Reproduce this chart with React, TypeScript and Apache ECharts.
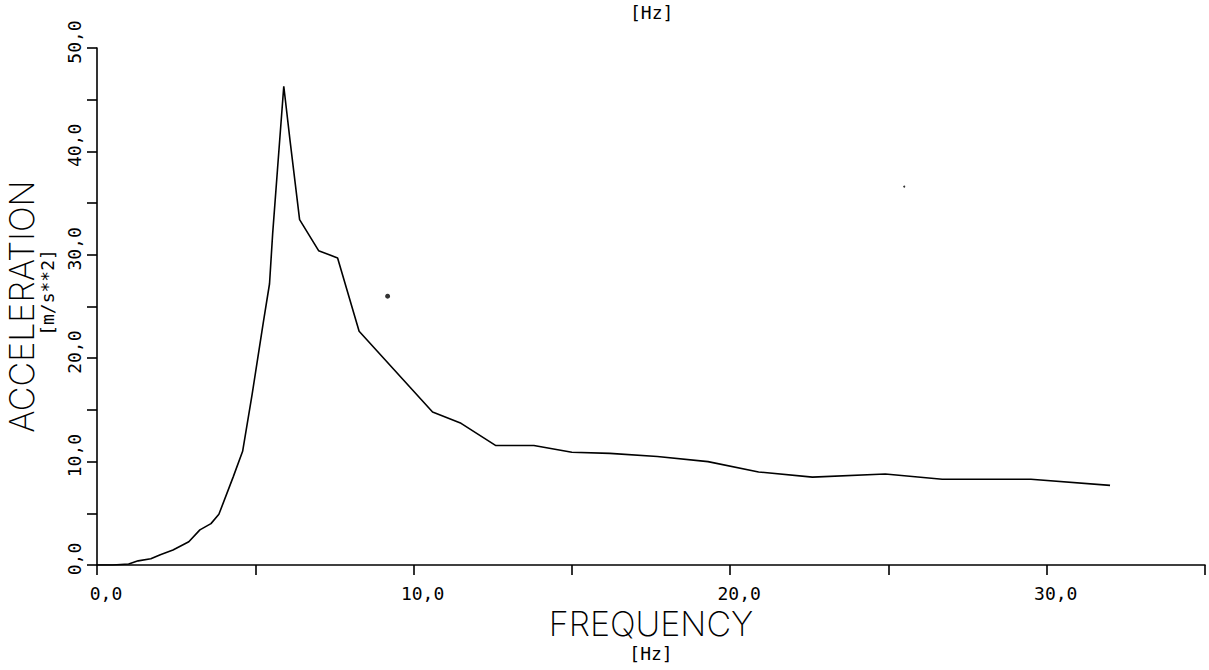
import React, { useEffect, useRef } from "react";
import * as echarts from "echarts";

// Frequency [Hz] and acceleration [m/s**2]
const frequency = [
  0, 0.5, 1.0, 1.3, 1.7, 2.0, 2.4, 2.9, 3.25, 3.6, 3.85, 4.3, 4.6, 4.9, 5.25, 5.45,
  5.55, 5.7, 5.9, 6.1, 6.4, 7.0, 7.6, 8.28, 10.6, 11.5, 12.6, 13.8, 15.0, 16.2, 17.7,
  19.3, 20.9, 22.6, 24.9, 26.7, 29.5, 32.0,
];
const acceleration = [
  0, 0.0, 0.1, 0.4, 0.6, 1.0, 1.45, 2.25, 3.4, 4.0, 4.9, 8.5, 11.0, 16.5, 23.4, 27.2,
  32.1, 38.2, 46.3, 41.0, 33.4, 30.4, 29.7, 22.6, 14.8, 13.7, 11.55, 11.55, 10.9, 10.8, 10.5,
  10.0, 9.0, 8.5, 8.8, 8.3, 8.3, 7.7,
];
// Stray specks on the scanned sheet
const speckX = [9.18, 25.5];
const speckY = [26.0, 36.6];
const speckSize = [5, 2];

const xTicks = { min: 0, max: 35, step: 5 };
const yTicks = { min: 0, max: 50, step: 5 };

const fmt = (v: number) => (v % 10 === 0 ? v.toFixed(1).replace(".", ",") : "");

export default function App() {
  const ref = useRef<HTMLDivElement>(null);
  useEffect(() => {
    document.body.style.margin = "0";
    if (!ref.current) return;
    const chart = echarts.init(ref.current, undefined, { renderer: "svg" });
    const mono = "DejaVu Sans Mono";
    const line = { color: "#000", width: 1.6 };
    chart.setOption({
      animation: false,
      backgroundColor: "#fff",
      grid: { left: 97, right: 4, top: 48, bottom: 105, containLabel: false, outerBoundsMode: "none" },
      xAxis: {
        type: "value",
        min: xTicks.min,
        max: xTicks.max,
        interval: xTicks.step,
        axisLine: { show: true, onZero: false, lineStyle: line },
        axisTick: { show: true, length: 10, lineStyle: line },
        splitLine: { show: false },
        axisLabel: {
          formatter: fmt,
          margin: 19,
          fontFamily: mono,
          fontSize: 18,
          color: "#000",
          padding: [0, 0, 0, 18],
        },
        name: "{a|FREQUENCY}\n{b|[Hz]}",
        nameLocation: "middle",
        nameGap: 42,
        nameTextStyle: {
          rich: {
            a: { fontFamily: "Inter", fontWeight: 200, fontSize: 34, lineHeight: 32, color: "#000" },
            b: { fontFamily: mono, fontSize: 18, lineHeight: 28, color: "#000" },
          },
        },
      },
      yAxis: {
        type: "value",
        min: yTicks.min,
        max: yTicks.max,
        interval: yTicks.step,
        axisLine: { show: true, onZero: false, lineStyle: line },
        axisTick: { show: true, length: 10, lineStyle: line },
        splitLine: { show: false },
        axisLabel: {
          formatter: fmt,
          rotate: 90,
          margin: 14,
          fontFamily: mono,
          fontSize: 18,
          color: "#000",
          padding: [0, 0, 0, 12],
        },
        name: "{a|ACCELERATION}\n{b|[m/s**2]}",
        nameLocation: "middle",
        nameRotate: 90,
        nameGap: 38,
        nameTextStyle: {
          rich: {
            a: { fontFamily: "Inter", fontWeight: 200, fontSize: 34, lineHeight: 28, color: "#000" },
            b: { fontFamily: mono, fontSize: 18, lineHeight: 24, color: "#000", padding: [0, 0, 0, 28] },
          },
        },
      },
      graphic: [
        {
          type: "text",
          left: 630,
          top: 3,
          style: { text: "[Hz]", fontFamily: mono, fontSize: 18, fill: "#000" },
        },
      ],
      series: [
        {
          type: "line",
          data: frequency.map((f, i) => [f, acceleration[i]]),
          showSymbol: false,
          symbol: "none",
          lineStyle: { color: "#000", width: 1.6 },
          silent: true,
        },
        {
          type: "scatter",
          data: speckX.map((x, i) => [x, speckY[i], speckSize[i]]),
          symbolSize: (v: number[]) => v[2],
          itemStyle: { color: "#000" },
          silent: true,
        },
      ],
    });
    return () => chart.dispose();
  }, []);
  return <div ref={ref} style={{ width: 1209, height: 670 }} />;
}
